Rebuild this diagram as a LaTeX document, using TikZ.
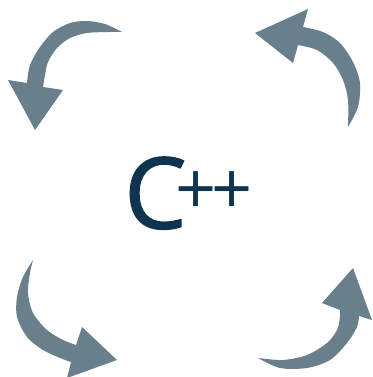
\documentclass[tikz,border=0pt]{standalone}
\usepackage{fontspec}
\setmainfont{Open Sans}
\newfontfamily\cppbold[FakeBold=1.3]{Open Sans}
\newsavebox\plusbox
\definecolor{arrowgray}{RGB}{105,127,139}
\definecolor{cppnavy}{RGB}{14,52,80}
\tikzset{
  curvedarrow/.style={fill=arrowgray, draw=none},
  cpptext/.style={text=cppnavy, inner sep=0pt, outer sep=0pt}
}
\begin{document}
\begin{tikzpicture}[x=1pt,y=-1pt]
\useasboundingbox (0,0) rectangle (372,377);
% top-left arrow
\fill[curvedarrow] plot[smooth] coordinates {(122,32) (105,24) (87,21) (70,23) (53,32) (40,47) (30,65) (27,83)}
  -- (8,80) -- (35,130) -- (63,90) -- (43,87)
  -- plot[smooth] coordinates {(43,87) (45,75) (48,62) (57,48) (70,38) (87,33) (110,32) (122,32)} -- cycle;
% top-right arrow
\fill[curvedarrow] plot[smooth] coordinates {(303,27) (323,32) (340,43) (353,62) (360,83) (358,107) (348,127)}
  -- plot[smooth] coordinates {(348,127) (348,100) (343,80) (333,63) (317,50) (298,45)}
  -- (293,63) -- (255,33) -- (308,9) -- cycle;
% bottom-left arrow
\fill[curvedarrow] plot[smooth] coordinates {(33,260) (23,277) (17,297) (17,317) (27,337) (43,350) (60,358) (71,362)}
  -- (67,378) -- (117,360) -- (82,327) -- (76,345)
  -- plot[smooth] coordinates {(76,345) (63,340) (47,330) (33,313) (28,293) (30,273) (33,260)} -- cycle;
% bottom-right arrow
\fill[curvedarrow] plot[smooth] coordinates {(258,358) (280,368) (307,368) (330,360) (347,343) (357,327) (359,316)}
  -- (372,320) -- (353,268) -- (322,303) -- (340,310)
  -- plot[smooth] coordinates {(340,310) (340,317) (337,330) (327,343) (307,355) (283,360) (258,358)} -- cycle;
% text
\node[cpptext, anchor=base west] (cpp) at (124.2,228.5)
  {\sbox\plusbox{\rmfamily\fontsize{72}{72}\selectfont+\kern-6pt+}%
   {\cppbold\fontsize{99}{99}\selectfont C}\kern-10.8pt%
   \raisebox{\dimexpr35pt-(\ht\plusbox-\dp\plusbox)/2\relax}{\usebox\plusbox}};
\end{tikzpicture}
\end{document}
